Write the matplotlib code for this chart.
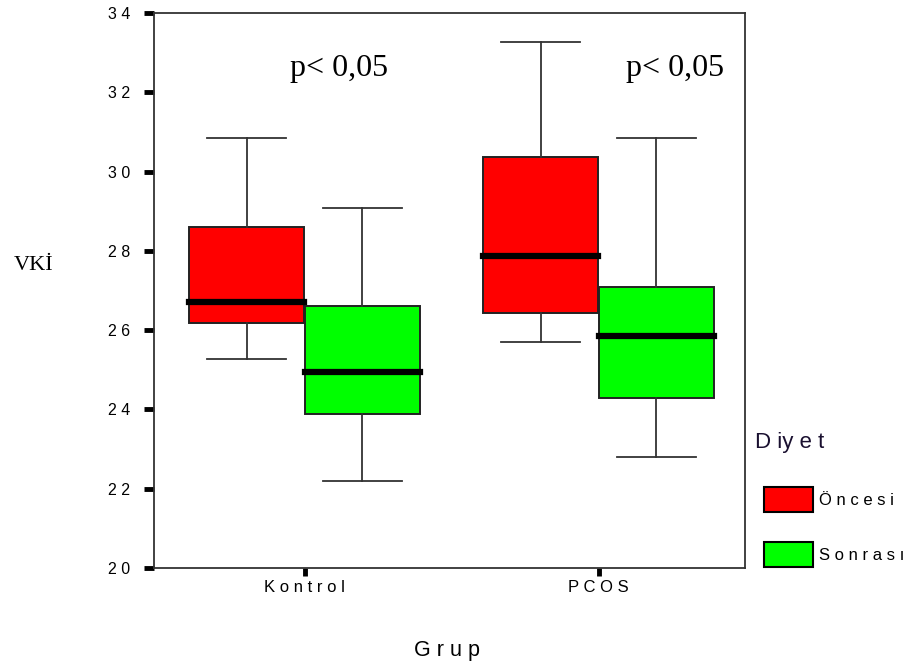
import matplotlib
matplotlib.use("Agg")
import matplotlib.pyplot as plt
from matplotlib.patches import Patch

# ---- data ----
groups = ["K o n t r o l", "P C O S"]
series = ["Ö n c e s i", "S o n r a s ı"]
colors = ["#ff0000", "#00ff00"]

oncesi_whislo = [25.28, 25.71]
oncesi_q1 = [26.19, 26.44]
oncesi_med = [26.72, 27.86]
oncesi_q3 = [28.59, 30.36]
oncesi_whishi = [30.84, 33.27]

sonrasi_whislo = [22.20, 22.81]
sonrasi_q1 = [23.89, 24.30]
sonrasi_med = [24.95, 25.84]
sonrasi_q3 = [26.60, 27.10]
sonrasi_whishi = [29.07, 30.84]

yticks = [20, 22, 24, 26, 28, 30, 32, 34]
ytick_labels = ["2 0", "2 2", "2 4", "2 6", "2 8", "3 0", "3 2", "3 4"]
p_text = "p< 0,05"

# ---- figure ----
W, H = 916, 668
fig = plt.figure(figsize=(W / 100, H / 100), dpi=100)
ax = fig.add_axes([154 / W, 1 - 568 / H, (745 - 154) / W, (568 - 13) / H])

width = 0.393
offset = 0.197

def stats(lo, q1, med, q3, hi):
    return [dict(whislo=lo[i], q1=q1[i], med=med[i], q3=q3[i], whishi=hi[i], fliers=[])
            for i in range(len(med))]

all_stats = [
    stats(oncesi_whislo, oncesi_q1, oncesi_med, oncesi_q3, oncesi_whishi),
    stats(sonrasi_whislo, sonrasi_q1, sonrasi_med, sonrasi_q3, sonrasi_whishi),
]

for k, (st, col) in enumerate(zip(all_stats, colors)):
    pos = [i + (-offset if k == 0 else offset) for i in range(len(groups))]
    ax.bxp(st, positions=pos, widths=width, capwidths=0.27, patch_artist=True,
           showfliers=False, manage_ticks=False,
           boxprops=dict(facecolor=col, edgecolor="#222222", linewidth=1.4),
           whiskerprops=dict(color="#333333", linewidth=1.3),
           capprops=dict(color="#333333", linewidth=1.3),
           medianprops=dict(color="black", linewidth=4.5, solid_capstyle="projecting"))

ax.set_xlim(-0.512, 1.498)
ax.set_ylim(20, 34)

ax.set_xticks(range(len(groups)))
ax.set_xticklabels(groups, fontfamily="Liberation Sans", fontsize=12)
ax.set_yticks(yticks)
ax.set_yticklabels(ytick_labels, fontfamily="Liberation Sans", fontsize=11.5)
ax.tick_params(axis="y", direction="out", length=7, width=3.5, pad=10, colors="black")
ax.tick_params(axis="x", direction="out", length=6, width=3.5, pad=3, colors="black")

for s in ax.spines.values():
    s.set_linewidth(1.3)
    s.set_color("#333333")

ax.set_xlabel("G r u p", fontfamily="Liberation Sans", fontsize=15.5)
ax.xaxis.set_label_coords(0.496, -0.148)
ax.xaxis.label.set_va("center")
ax.set_ylabel("VKİ", fontfamily="Liberation Serif", fontsize=16, rotation=0)
ax.yaxis.set_label_coords(-0.203, 0.545)
ax.yaxis.label.set_va("center")
ax.yaxis.label.set_ha("center")

ax.text(0.119, 32.41, p_text, fontfamily="Liberation Serif", fontsize=23,
        ha="center", va="baseline")
ax.text(1.261, 32.41, p_text, fontfamily="Liberation Serif", fontsize=23,
        ha="center", va="baseline")

# legend title
fig.text(755 / W, 1 - 448 / H, "D iy e t", fontfamily="Liberation Sans", fontsize=16,
         ha="left", va="baseline", color="#1a1030")

fs = 12
px = fs * 100 / 72
handles = [Patch(facecolor=c, edgecolor="black", linewidth=1.5) for c in colors]
leg = fig.legend(handles, series, loc="upper left", bbox_to_anchor=(764 / W, 1 - 487 / H),
                 frameon=False, prop=dict(family="Liberation Sans", size=fs),
                 handlelength=49 / px, handleheight=32 / px, labelspacing=30 / px,
                 handletextpad=6 / px, borderpad=0, borderaxespad=0)

fig.savefig("out.png", dpi=100)
